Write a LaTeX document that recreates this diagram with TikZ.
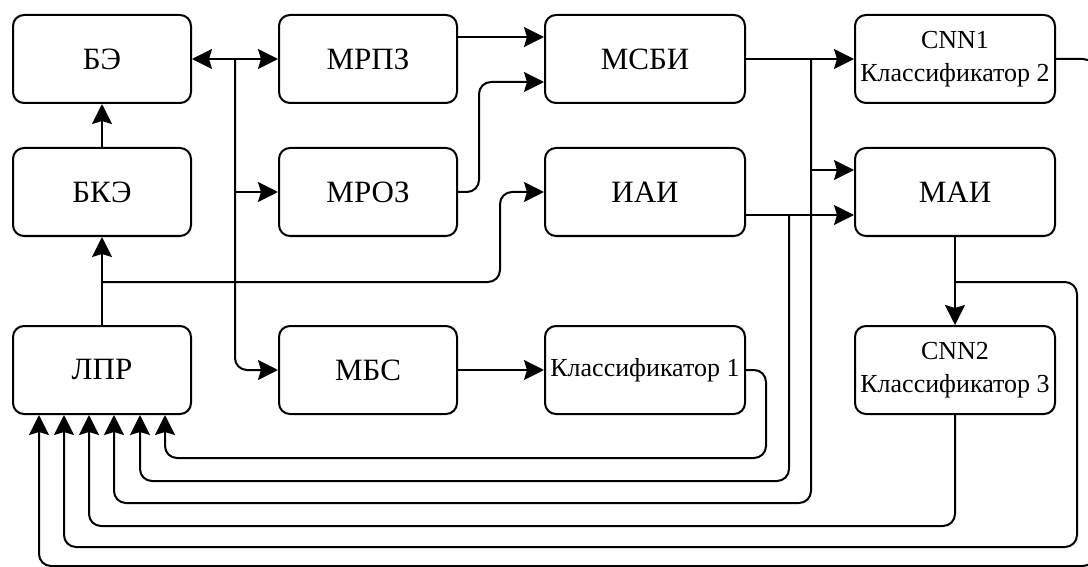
\documentclass[tikz,border=0pt]{standalone}
\usepackage{fontspec}
\setmainfont{Liberation Serif}
\usetikzlibrary{arrows.meta}
\begin{document}
\begin{tikzpicture}[x=1pt,y=-1pt,
  blk/.style={draw, line width=2pt, rounded corners=11pt, minimum width=178pt,
    minimum height=88pt, inner sep=0pt, align=center, font=\fontsize{31}{37}\selectfont},
  wide/.style={minimum width=200pt},
  small/.style={font=\fontsize{26}{33}\selectfont},
  ln/.style={line width=2pt},
  tip/.tip={Stealth[length=20pt,width=20pt,inset=3pt]},
  arr/.style={ln, -tip},
  biarr/.style={ln, tip-tip},
  rc/.style={rounded corners=12pt}]
\useasboundingbox (0,0) rectangle (1088,567);
\fill[white] (0,0) rectangle (1088,567);
\clip (0,0) rectangle (1088,567);

% blocks
\node[blk] (be)   at (102,59)  {БЭ};
\node[blk] (bke)  at (102,192) {БКЭ};
\node[blk] (lpr)  at (102,370) {ЛПР};
\node[blk] (mrpz) at (368,59)  {МРПЗ};
\node[blk] (mroz) at (368,192) {МРОЗ};
\node[blk] (mbs)  at (368,370) {МБС};
\node[blk,wide] (msbi) at (645,59)  {МСБИ};
\node[blk,wide] (iai)  at (645,192) {ИАИ};
\node[blk,wide,small] (cls1) at (645,370) {Классификатор 1};
\node[blk,wide,small] (cnn1) at (955,59)  {CNN1\\Классификатор 2};
\node[blk,wide] (mai)  at (955,192) {МАИ};
\node[blk,wide,small] (cnn2) at (955,370) {CNN2\\Классификатор 3};

% junction points
\coordinate (j1) at (102,282);
\coordinate (j2) at (235,59);
\coordinate (j3) at (811,59);
\coordinate (j4) at (789,215);
\coordinate (j5) at (955,282);

% left column
\draw[arr] (bke.north) -- (be.south);
\draw[arr] (lpr.north) -- (bke.south);
\draw[arr,rc] (j1) -- (500,282) -- (500,192) -- (iai.west);

% bus from БЭ
\draw[biarr] (be.east) -- (mrpz.west);
\draw[arr] (j2) |- (mroz.west);
\draw[arr,rc] (j2) |- (mbs.west);

% into МСБИ
\draw[arr] ([yshift=22pt]mrpz.east) -- ([yshift=22pt]msbi.west);
\draw[arr,rc] (mroz.east) -- (479,192) -- (479,82) -- ([yshift=-23pt]msbi.west);
\draw[arr] (mbs.east) -- (cls1.west);

% to the right column
\draw[arr] (msbi.east) -- (cnn1.west);
\draw[arr] (j3) |- ([yshift=22pt]mai.west);
\draw[arr] ([yshift=-23pt]iai.east) -- ([yshift=-23pt]mai.west);
\draw[arr] (mai.south) -- (cnn2.north);

% feedback to ЛПР
\draw[arr,rc] (cls1.east) -- ++(20,0) -- ++(0,88) -| ([xshift=63pt]lpr.south);
\draw[arr,rc] (j4) -- ++(0,266) -| ([xshift=38pt]lpr.south);
\draw[arr,rc] (j3) -- ++(0,444) -| ([xshift=12pt]lpr.south);
\draw[arr,rc] (cnn2.south) -- ++(0,111) -| ([xshift=-13pt]lpr.south);
\draw[arr,rc] (j5) -- (1077,282) -- (1077,547) -| ([xshift=-38pt]lpr.south);
\draw[arr,rc] (cnn1.east) -- (1095,59) -- (1095,566) -| ([xshift=-63pt]lpr.south);
\end{tikzpicture}
\end{document}
